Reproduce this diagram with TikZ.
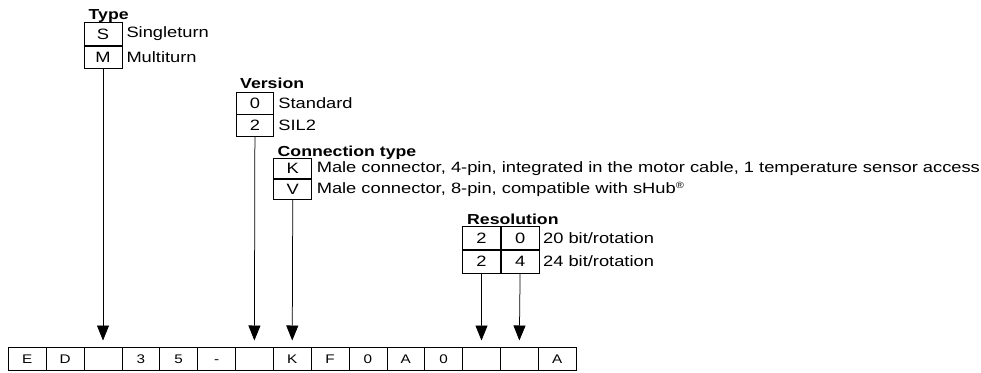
\documentclass[tikz,border=0pt]{standalone}
\usepackage{fontspec}
\setmainfont[FakeStretch=1.22]{Liberation Sans}
\usetikzlibrary{arrows.meta}
\begin{document}
\begin{tikzpicture}[x=1pt,y=-1pt,
  cell/.style={draw, line width=0.75pt, minimum width=37.85pt, minimum height=22.7pt, inner sep=0pt, anchor=north west, text height=9pt, text depth=0pt, font=\fontsize{12.5}{13}\selectfont},
  opt/.style={draw, line width=0.75pt, minimum width=37.85pt, inner sep=0pt, anchor=north west, text height=10.5pt, text depth=0pt, font=\fontsize{15}{16}\selectfont},
  desc/.style={anchor=west, inner sep=0pt, font=\fontsize{15}{16}\selectfont},
  head/.style={anchor=base west, inner sep=0pt, font=\bfseries\fontsize{14.5}{16}\selectfont},
  arr/.style={-{Triangle[length=15pt,width=12pt]}, line width=0.75pt}]
\useasboundingbox (0,0) rectangle (981,372);
% bottom row
\foreach \i/\t in {0/E,1/D,2/,3/3,4/5,5/-,6/,7/K,8/F,9/0,10/A,11/0,12/,13/,14/A}
  \node[cell] (c\i) at ({8+37.85*\i},347.3) {\t};
% Type
\node[head] (hT) at (88.5,19.5) {Type};
\node[opt, minimum height=23pt] (tS) at (83.7,22) {S};
\node[opt, minimum height=22.5pt] (tM) at (tS.south west) {M};
\node[desc] (dS) at ([xshift=4pt]tS.east) {Singleturn};
\node[desc] (dM) at ([xshift=4pt]tM.east) {Multiturn};
% Version
\node[head] (hV) at (240,88) {Version};
\node[opt, minimum height=21.5pt] (v0) at (235.6,92) {0};
\node[opt, minimum height=21.5pt] (v2) at (v0.south west) {2};
\node[desc] (d0) at ([xshift=4pt]v0.east) {Standard};
\node[desc] (d2) at ([xshift=4pt]v2.east) {SIL2};
% Connection type
\node[head] (hC) at (277.5,156) {Connection type};
\node[opt, minimum height=20pt] (kK) at (273.45,158) {K};
\node[opt, minimum height=20pt] (kV) at (kK.south west) {V};
\node[desc] (dK) at ([xshift=4.5pt]kK.east) {Male connector, 4-pin, integrated in the motor cable, 1 temperature sensor access};
\node[desc] (dV) at ([xshift=4.5pt]kV.east) {Male connector, 8-pin, compatible with sHub\textsuperscript{\fontsize{9}{9}\selectfont ®}};
% Resolution
\node[head] (hR) at (467,224) {Resolution};
\node[opt, minimum height=23pt] (r20a) at (462.2,226) {2};
\node[opt, minimum height=23pt] (r20b) at (r20a.north east) {0};
\node[opt, minimum height=23pt] (r24a) at (r20a.south west) {2};
\node[opt, minimum height=23pt] (r24b) at (r24a.north east) {4};
\node[desc] (d20) at ([xshift=3.5pt]r20b.east) {20 bit/rotation};
\node[desc] (d24) at ([xshift=3.5pt]r24b.east) {24 bit/rotation};
% arrows
\draw[arr] (tM.south) -- ([yshift=6.8pt]c2.north);
\draw[arr] (v2.south) -- ([yshift=6.8pt]c6.north);
\draw[arr] (kV.south) -- ([yshift=6.8pt]c7.north);
\draw[arr] (r24a.south) -- ([yshift=6.8pt]c12.north);
\draw[arr] (r24b.south) -- ([yshift=6.8pt]c13.north);
\end{tikzpicture}
\end{document}
